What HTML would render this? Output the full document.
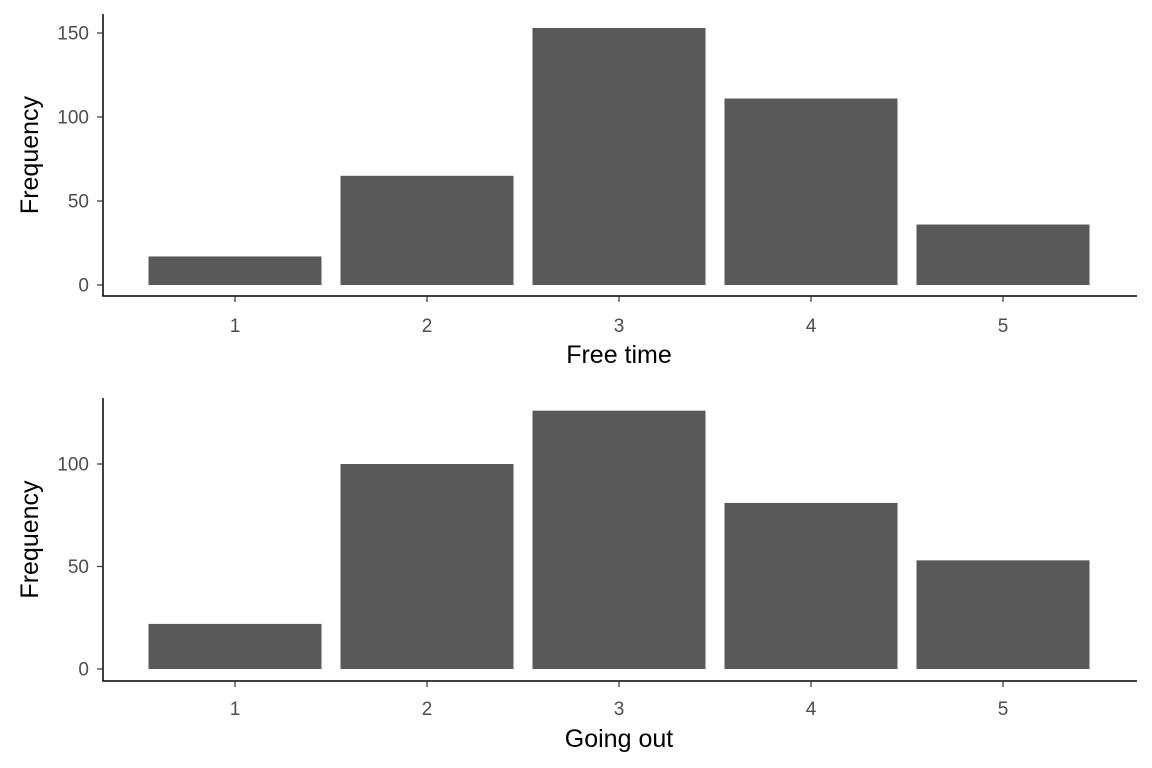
<!DOCTYPE html>
<html><head><meta charset="utf-8"><style>
html,body{margin:0;padding:0;background:#fff;}
svg{display:block;font-family:"Liberation Sans",Arial,sans-serif;}
</style></head><body>
<svg id="chart" width="1152" height="768"></svg>
<script>
const categories=["1","2","3","4","5"];
const freeTime=[17,65,153,111,36];
const goingOut=[22,100,126,81,53];
const ticksTop=[0,50,100,150];
const ticksBottom=[0,50,100];
const NS="http://www.w3.org/2000/svg";
const svg=document.getElementById("chart");
function el(tag,attrs,parent){const e=document.createElementNS(NS,tag);for(const k in attrs)e.setAttribute(k,attrs[k]);(parent||svg).appendChild(e);return e;}
function panel(name,values,ticks,y0,pxPerUnit,axisY,axisTop,title,titleY,xTickY){
  const g=el("g",{});
  
  
  const yScale=v=>y0-v*pxPerUnit;
  const xScale=i=>235+i*192;
  values.forEach((v,i)=>{
    const r=el("rect",{x:xScale(i)-86.5,y:yScale(v),width:173,height:y0-yScale(v),fill:"#595959"},g);
    
    
  });
  const ya=el("line",{x1:103,x2:103,y1:axisTop,y2:axisY,stroke:"#000","stroke-width":1.5},g);
  
  
  const xa=el("line",{x1:102.25,x2:1137,y1:axisY,y2:axisY,stroke:"#000","stroke-width":1.5},g);
  
  
  ticks.forEach(t=>{
    const y=yScale(t);
    el("line",{x1:97,x2:103,y1:y,y2:y,stroke:"#333","stroke-width":1.2},g);
    const tx=el("text",{x:89,y:y+6.5,"text-anchor":"end","font-size":19,fill:"#4d4d4d"},g);
    tx.textContent=t;
    
    
  });
  categories.forEach((c,i)=>{
    const x=xScale(i);
    el("line",{x1:x,x2:x,y1:axisY,y2:axisY+6,stroke:"#333","stroke-width":1.2},g);
    const tx=el("text",{x:x,y:xTickY,"text-anchor":"middle","font-size":19,fill:"#4d4d4d"},g);
    tx.textContent=c;
    
    
  });
  const xt=el("text",{x:619,y:titleY,"text-anchor":"middle","font-size":25,fill:"#000"},g);
  xt.textContent=title;
  
  
  const cy=(axisTop+axisY)/2;
  const yt=el("text",{x:30,y:cy,"text-anchor":"middle","font-size":25,fill:"#000",transform:"rotate(-90 30 "+cy+") translate(0 8)"},g);
  yt.textContent="Frequency";
  
  
}
panel("free-time",freeTime,ticksTop,285,252/150,296,14,"Free time",363,332);
panel("going-out",goingOut,ticksBottom,669,2.05,681,398,"Going out",747,715);
</script>
</body></html>
